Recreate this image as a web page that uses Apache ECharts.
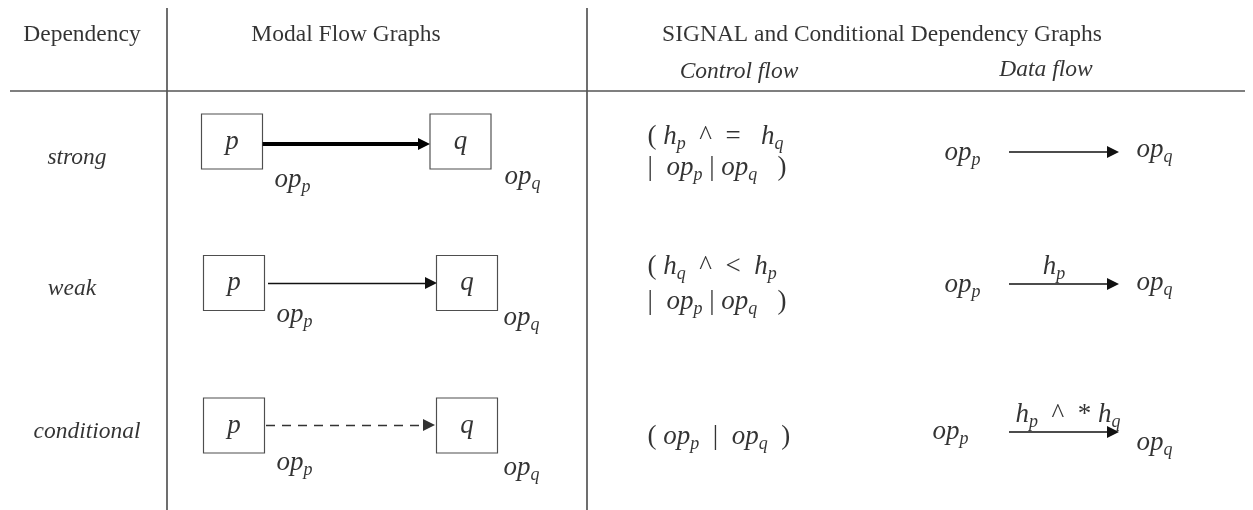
<!DOCTYPE html>
<html>
<head>
<meta charset="utf-8">
<script src="https://cdn.jsdelivr.net/npm/echarts@6/dist/echarts.min.js"></script>
<style>html,body{margin:0;padding:0;background:#fff}#c{width:1253px;height:510px}</style>
</head>
<body>
<div id="c"></div>
<script>
// ---------------- data ----------------
const headerLabels = ['Dependency', 'Modal Flow Graphs', 'SIGNAL and Conditional Dependency Graphs'];
const subHeaderLabels = ['Control flow', 'Data flow'];
const dependencyTypes = ['strong', 'weak', 'conditional'];
const nodeNames = ['p', 'q'];
const nodeOps = ['op_p', 'op_q'];
const modalEdgeKinds = ['thick', 'thin', 'dashed'];
const controlFlowLines = [
  ['( h_p  ^  =   h_q', '|  op_p | op_q   )'],
  ['( h_q  ^  <  h_p', '|  op_p | op_q   )'],
  ['( op_p  |  op_q  )']
];
const dataFlowEnds = ['op_p', 'op_q'];
const dataFlowEdgeLabels = ['', 'h_p', 'h_p  ^  * h_q'];

// ---------------- layout (axis units) ----------------
const W = 1253, H = 510;
const LAY = {
  headerX: [82, 346, 882], headerY: 35,
  subHeaderX: [739, 1046], subHeaderY: [72, 70],
  ruleX: [167, 587], ruleTop: 8, ruleY: 91, ruleLeft: 10, ruleRight: 1245,
  depLabel: [[77, 158], [72, 289], [87, 432]],
  boxX: [[232, 460.5], [234, 467], [234, 467]],
  boxY: [141.5, 283, 425.5],
  boxSize: [61, 55],
  modalEdgeX: [[262, 430], [268, 437], [266, 435]],
  modalEdgeY: [144, 283, 425],
  opPos: [[[274, 180], [504, 177]], [[276, 315], [503, 318]], [[276, 463], [503, 468]]],
  ctrlX: 647,
  ctrlY: [[137, 168], [267, 302], [437]],
  dfFromX: [944, 944, 932], dfFromY: [153, 285, 432],
  dfEdgeX: [1009, 1119], dfEdgeY: [152, 284, 432],
  dfToX: [1136, 1136, 1136], dfToY: [150, 283, 443],
  dfLabelX: [0, 1054, 1068], dfLabelY: [0, 267, 415],
  arrowHead: 12
};

const FONT = 'Liberation Serif';
const rich = {
  h: {fontFamily: FONT, fontSize: 23.5, color: '#000', lineHeight: 28},
  hi: {fontFamily: FONT, fontSize: 23.5, fontStyle: 'italic', color: '#000', lineHeight: 28},
  i: {fontFamily: FONT, fontSize: 27, fontStyle: 'italic', color: '#000', lineHeight: 32},
  r: {fontFamily: FONT, fontSize: 27, color: '#000', lineHeight: 32},
  s: {fontFamily: FONT, fontSize: 18, fontStyle: 'italic', color: '#000', lineHeight: 15, verticalAlign: 'bottom'}
};

// convert simple math markup into rich text: letters italic, _x subscript, others roman
function mathRich(str) {
  let out = '', k = 0;
  const isL = ch => /[a-zA-Z]/.test(ch);
  while (k < str.length) {
    const c = str[k];
    if (c === '_') { out += '{s|' + str[k + 1] + '}'; k += 2; continue; }
    let j = k;
    if (isL(c)) {
      while (j < str.length && isL(str[j])) j++;
      out += '{i|' + str.slice(k, j) + '}';
    } else {
      while (j < str.length && str[j] !== '_' && !isL(str[j])) j++;
      out += '{r|' + str.slice(k, j) + '}';
    }
    k = j;
  }
  return out;
}
const txt = (x, y, formatter, position) => ({value: [x, y], label: {formatter, position}});

// ---------------- build items ----------------
const texts = [];
headerLabels.forEach((h, k) => texts.push(txt(LAY.headerX[k], LAY.headerY, '{h|' + h + '}', 'inside')));
subHeaderLabels.forEach((h, k) => texts.push(txt(LAY.subHeaderX[k], LAY.subHeaderY[k], '{hi|' + h + '}', 'inside')));
dependencyTypes.forEach((d, r) => texts.push(txt(LAY.depLabel[r][0], LAY.depLabel[r][1], '{hi|' + d + '}', 'inside')));
dependencyTypes.forEach((d, r) => {
  nodeOps.forEach((op, k) => texts.push(txt(LAY.opPos[r][k][0], LAY.opPos[r][k][1], mathRich(op), 'right')));
  controlFlowLines[r].forEach((line, k) => texts.push(txt(LAY.ctrlX, LAY.ctrlY[r][k], mathRich(line), 'right')));
  texts.push(txt(LAY.dfFromX[r], LAY.dfFromY[r], mathRich(dataFlowEnds[0]), 'right'));
  texts.push(txt(LAY.dfToX[r], LAY.dfToY[r], mathRich(dataFlowEnds[1]), 'right'));
  if (dataFlowEdgeLabels[r]) texts.push(txt(LAY.dfLabelX[r], LAY.dfLabelY[r], mathRich(dataFlowEdgeLabels[r]), 'inside'));
});

const boxes = [];
dependencyTypes.forEach((d, r) => nodeNames.forEach((n, k) => boxes.push({value: [LAY.boxX[r][k], LAY.boxY[r]], label: {formatter: '{i|' + n + '}'}})));

const rules = [
  {coords: [[LAY.ruleX[0], LAY.ruleTop], [LAY.ruleX[0], H]]},
  {coords: [[LAY.ruleX[1], LAY.ruleTop], [LAY.ruleX[1], H]]},
  {coords: [[LAY.ruleLeft, LAY.ruleY], [LAY.ruleRight, LAY.ruleY]]}
];

const edgeStyle = {
  thick: {width: 4, color: '#000', type: 'solid'},
  thin: {width: 1.3, color: '#111', type: 'solid'},
  dashed: {width: 1.3, color: '#333', type: [9, 7]}
};
const half = LAY.arrowHead / 2;
const modalEdges = modalEdgeKinds.map((kind, r) => ({
  coords: [[LAY.modalEdgeX[r][0], LAY.modalEdgeY[r]], [LAY.modalEdgeX[r][1] - half, LAY.modalEdgeY[r]]],
  lineStyle: edgeStyle[kind]
}));
const dataEdges = dependencyTypes.map((d, r) => ({
  coords: [[LAY.dfEdgeX[0], LAY.dfEdgeY[r]], [LAY.dfEdgeX[1] - half, LAY.dfEdgeY[r]]]
}));

const chart = echarts.init(document.getElementById('c'), null, {renderer: 'canvas'});
chart.setOption({
  animation: false,
  backgroundColor: '#fff',
  grid: {left: 0, right: 0, top: 0, bottom: 0},
  xAxis: {type: 'value', min: 0, max: W, show: false},
  yAxis: {type: 'value', min: 0, max: H, inverse: true, show: false},
  series: [
    {
      type: 'lines', coordinateSystem: 'cartesian2d', silent: true, z: 1,
      symbol: 'none', lineStyle: {color: '#555', width: 1.7, opacity: 1, curveness: 0},
      data: rules
    },
    {
      type: 'lines', coordinateSystem: 'cartesian2d', silent: true, z: 2,
      symbol: ['none', 'triangle'], symbolSize: [11, LAY.arrowHead],
      lineStyle: {opacity: 1, curveness: 0},
      itemStyle: {color: '#000'},
      data: modalEdges
    },
    {
      type: 'lines', coordinateSystem: 'cartesian2d', silent: true, z: 2,
      symbol: ['none', 'triangle'], symbolSize: [10, LAY.arrowHead],
      lineStyle: {color: '#111', width: 1.5, opacity: 1, curveness: 0},
      data: dataEdges
    },
    {
      type: 'scatter', silent: true, z: 3,
      symbol: 'rect', symbolSize: LAY.boxSize,
      itemStyle: {color: '#fff', borderColor: '#222', borderWidth: 1.1},
      label: {show: true, position: 'inside', color: '#000', rich},
      data: boxes
    },
    {
      type: 'scatter', silent: true, z: 4,
      symbolSize: 1, itemStyle: {color: 'rgba(0,0,0,0)'},
      label: {show: true, distance: 0, color: '#000', rich},
      data: texts
    }
  ]
});
</script>
</body>
</html>
